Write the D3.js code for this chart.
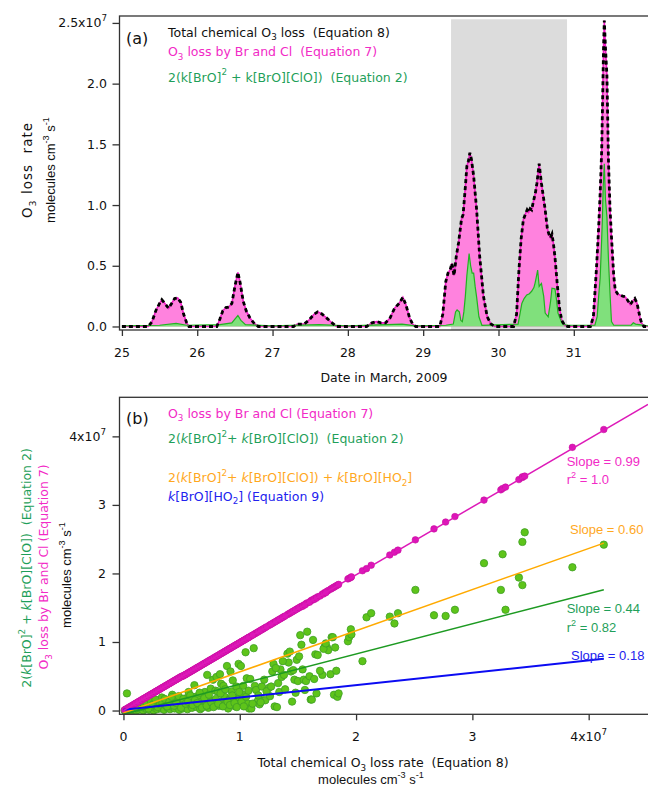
<!DOCTYPE html>
<html>
<head>
<meta charset="utf-8">
<script src="https://cdn.jsdelivr.net/npm/d3@7"></script>
<style>
body { margin: 0; background: #fff; }
svg { display: block; }
text { font-family: "DejaVu Sans", sans-serif; white-space: pre; }
</style>
</head>
<body>
<svg id="chart" width="648" height="793"></svg>
<script>
// ---- panel (a): O3 loss rate time series, units of 1e7 molecules cm-3 s-1
const totalDays = [25.00,25.35,25.40,25.45,25.50,25.53,25.57,25.62,25.66,25.70,25.74,25.78,25.82,25.86,25.89,
  26.26,26.30,26.34,26.38,26.42,26.46,26.50,26.54,26.57,26.61,26.65,26.70,26.75,26.81,
  27.28,27.33,27.42,27.48,27.55,27.60,27.64,27.70,27.77,27.85,
  28.25,28.32,28.38,28.44,28.50,28.56,28.62,28.68,28.73,28.77,28.82,28.86,28.90,
  29.22,29.26,29.30,29.33,29.36,29.38,29.41,29.44,29.47,29.49,29.51,29.53,29.56,29.58,29.60,29.62,29.64,29.67,29.71,29.75,29.80,29.85,29.90,29.95,
  30.20,30.24,30.27,30.30,30.33,30.36,30.38,30.40,30.42,30.44,30.46,30.49,30.51,30.54,30.57,30.60,30.62,30.65,30.67,30.69,30.71,30.73,30.75,30.78,30.81,30.84,30.88,30.92,
  31.22,31.26,31.30,31.33,31.35,31.37,31.38,31.395,31.405,31.42,31.44,31.46,31.48,31.50,31.53,31.55,31.58,31.61,31.65,31.68,31.71,31.75,31.78,31.81,31.84,31.86,31.88,31.90,31.93,31.985]
const totalLoss = [0,0,0.04,0.13,0.19,0.22,0.19,0.15,0.19,0.23,0.235,0.20,0.10,0.03,0,
  0,0.06,0.13,0.155,0.16,0.19,0.33,0.445,0.36,0.21,0.13,0.07,0.03,0,
  0,0.02,0.02,0.05,0.10,0.12,0.11,0.08,0.04,0,
  0,0.03,0.04,0.03,0.03,0.07,0.15,0.19,0.24,0.18,0.07,0.02,0,
  0,0.10,0.37,0.44,0.47,0.52,0.42,0.58,0.69,0.79,0.89,0.92,1.15,1.32,1.36,1.43,1.38,1.24,0.96,0.58,0.25,0.08,0.02,0,
  0,0.10,0.45,0.72,0.88,0.93,0.96,0.94,0.97,0.96,1.02,1.10,1.18,1.34,1.18,1.05,0.96,0.80,0.76,0.73,0.76,0.68,0.57,0.35,0.15,0.05,0.01,0,
  0,0.08,0.47,0.82,1.10,1.45,1.78,2.30,2.52,2.30,2.06,1.37,0.98,0.74,0.42,0.30,0.27,0.26,0.25,0.245,0.22,0.18,0.21,0.23,0.19,0.13,0.07,0.03,0,0]
const brClLoss = [0,0,0.04,0.13,0.19,0.22,0.19,0.15,0.19,0.23,0.235,0.20,0.10,0.03,0,
  0,0.06,0.13,0.155,0.16,0.19,0.33,0.445,0.36,0.21,0.13,0.07,0.03,0,
  0,0.02,0.02,0.05,0.10,0.12,0.11,0.08,0.04,0,
  0,0.03,0.04,0.03,0.03,0.07,0.15,0.19,0.24,0.18,0.07,0.02,0,
  0,0.10,0.37,0.44,0.47,0.52,0.42,0.58,0.69,0.79,0.89,0.92,1.15,1.32,1.36,1.43,1.38,1.24,0.96,0.58,0.25,0.08,0.02,0,
  0,0.10,0.45,0.72,0.88,0.93,0.96,0.94,0.97,0.96,1.02,1.10,1.18,1.34,1.18,1.05,0.96,0.80,0.76,0.73,0.76,0.68,0.57,0.35,0.15,0.05,0.01,0,
  0,0.08,0.47,0.82,1.10,1.45,1.78,2.30,2.52,2.30,2.06,1.37,0.98,0.74,0.42,0.30,0.27,0.26,0.25,0.245,0.22,0.18,0.21,0.23,0.19,0.13,0.07,0.03,0,0]
const eq2Days = [25.00,25.50,25.72,25.86,26.30,26.46,26.50,26.54,26.58,26.64,27.00,27.62,28.00,28.72,28.90,
  29.30,29.40,29.43,29.45,29.48,29.50,29.52,29.54,29.56,29.58,29.61,29.63,29.65,29.67,29.69,29.71,29.74,29.78,
  30.26,30.29,30.31,30.34,30.375,30.41,30.44,30.47,30.485,30.50,30.52,30.54,30.57,30.60,30.62,30.66,30.69,30.71,30.75,30.77,30.79,30.84,30.90,
  31.28,31.31,31.33,31.35,31.37,31.38,31.39,31.405,31.42,31.44,31.46,31.48,31.50,31.53,31.76,31.79,31.82,31.985]
const eq2Loss = [0.005,0.01,0.025,0.01,0.015,0.03,0.06,0.09,0.05,0.015,0.005,0.015,0.005,0.02,0.005,
  0.01,0.02,0.12,0.136,0.12,0.05,0.04,0.12,0.25,0.42,0.60,0.50,0.44,0.44,0.33,0.24,0.08,0.01,
  0.02,0.12,0.19,0.23,0.26,0.27,0.29,0.32,0.355,0.40,0.465,0.33,0.355,0.25,0.11,0.08,0.20,0.315,0.31,0.22,0.11,0.03,0.01,
  0.01,0.08,0.25,0.40,0.72,0.90,1.15,1.34,1.05,0.90,0.55,0.28,0.04,0.01,0.01,0.03,0.02,0.005]
const shadeDays = [29.37, 30.91]
const dayTicks = [25, 26, 27, 28, 29, 30, 31]
const lossTicksA = [0, 0.5, 1, 1.5, 2, 2.5]
const lossTickLabelsA = ["0.0", "0.5", "1.0", "1.5", "2.0", "2.5x10"]
const lossTickExpA = ["", "", "", "", "", "7"]

// ---- panel (b): scatter vs total loss (1e7 units)
const scatTotal = [0.01,0.02,0.03,0.04,0.05,0.06,0.07,0.08,0.09,0.10,0.11,0.12,0.13,0.14,0.15,0.16,0.17,0.18,0.19,0.20,
  0.21,0.22,0.23,0.24,0.25,0.26,0.27,0.28,0.29,0.30,0.31,0.32,0.33,0.34,0.35,0.36,0.37,0.38,0.39,0.40,
  0.41,0.42,0.43,0.44,0.45,0.46,0.47,0.48,0.49,0.50,0.51,0.52,0.53,0.54,0.55,0.56,0.57,0.58,0.59,0.60,
  0.61,0.62,0.63,0.64,0.65,0.66,0.67,0.68,0.69,0.70,0.71,0.72,0.73,0.74,0.75,0.76,0.77,0.78,0.79,0.80,
  0.81,0.82,0.83,0.84,0.85,0.86,0.87,0.88,0.89,0.90,0.91,0.92,0.93,0.94,0.95,0.96,0.97,0.98,0.99,1.00,
  1.01,1.02,1.03,1.04,1.05,1.06,1.07,1.08,1.09,1.10,1.12,1.13,1.14,1.15,1.17,1.19,1.20,1.22,1.25,1.26,
  1.28,1.29,1.30,1.32,1.33,1.35,1.36,1.38,1.41,1.42,1.43,1.44,1.45,1.47,1.49,1.50,1.52,1.53,1.55,1.57,
  1.58,1.61,1.62,1.63,1.65,1.67,1.71,1.73,1.75,1.76,1.78,1.79,1.80,1.81,1.82,1.83,1.84,1.85,1.93,1.94,
  1.955,1.96,2.055,2.09,2.13,2.29,2.33,2.36,2.51,2.67,2.77,2.85,3.10,3.245,3.26,3.285,3.40,3.43,3.43,3.45,3.86,4.13,
  0.105,0.125,0.155,0.175,0.195,0.215,0.235,0.255,0.275,0.295,0.315,0.335,0.355,0.375,0.395,0.415,0.435,0.455,0.475,0.495,
  0.515,0.535,0.555,0.575,0.595,0.615,0.635,0.655,0.675,0.695,0.715,0.735,0.755,0.775,0.795,0.815,0.835,0.855,0.875,0.895,
  0.915,0.935,0.955,0.975,0.995,1.015,1.035,1.055,1.075,
  1.11,1.16,1.18,1.21,1.23,1.27,1.31,1.34,1.37,1.39,1.46,1.48,1.51,1.54,1.56,1.60,1.64,1.66,1.69,1.72,1.74]
const scatBrCl = [0.01,0.02,0.03,0.04,0.05,0.06,0.07,0.08,0.09,0.10,0.11,0.12,0.13,0.14,0.15,0.16,0.17,0.18,0.19,0.20,
  0.21,0.22,0.23,0.24,0.25,0.26,0.27,0.28,0.29,0.30,0.31,0.32,0.33,0.34,0.35,0.36,0.37,0.38,0.39,0.40,
  0.41,0.42,0.43,0.44,0.45,0.46,0.47,0.48,0.49,0.50,0.50,0.51,0.52,0.53,0.54,0.55,0.56,0.57,0.58,0.59,
  0.60,0.61,0.62,0.63,0.64,0.65,0.66,0.67,0.68,0.69,0.70,0.71,0.72,0.73,0.74,0.75,0.76,0.77,0.78,0.79,
  0.80,0.81,0.82,0.83,0.84,0.85,0.86,0.87,0.88,0.89,0.90,0.91,0.92,0.93,0.94,0.95,0.96,0.97,0.98,0.99,
  1.00,1.01,1.02,1.03,1.04,1.05,1.06,1.07,1.08,1.09,1.11,1.12,1.13,1.14,1.16,1.18,1.19,1.21,1.24,1.25,
  1.27,1.28,1.29,1.31,1.32,1.34,1.35,1.37,1.40,1.41,1.42,1.43,1.44,1.46,1.48,1.49,1.51,1.52,1.54,1.56,
  1.57,1.60,1.61,1.62,1.64,1.66,1.70,1.72,1.74,1.75,1.77,1.78,1.79,1.80,1.81,1.82,1.83,1.84,1.92,1.93,
  1.94,1.95,2.04,2.07,2.12,2.27,2.31,2.34,2.49,2.65,2.75,2.83,3.07,3.22,3.24,3.26,3.37,3.40,3.41,3.42,3.84,4.10,
  0.104,0.124,0.153,0.173,0.193,0.213,0.233,0.252,0.272,0.292,0.312,0.332,0.351,0.371,0.391,0.411,0.431,0.450,0.470,0.490,
  0.510,0.530,0.549,0.569,0.589,0.609,0.629,0.648,0.668,0.688,0.708,0.728,0.747,0.767,0.787,0.807,0.827,0.846,0.866,0.886,
  0.906,0.926,0.945,0.965,0.985,1.005,1.025,1.044,1.064,
  1.10,1.15,1.17,1.20,1.22,1.26,1.30,1.33,1.36,1.38,1.45,1.47,1.50,1.52,1.54,1.58,1.62,1.64,1.67,1.70,1.72]
const scatEq2 = [0.00,0.01,0.25,0.00,0.01,0.02,0.00,0.01,0.03,0.02,0.00,0.04,0.01,0.03,0.05,0.02,0.00,0.04,0.07,0.02,
  0.05,0.01,0.08,0.03,0.06,0.00,0.04,0.10,0.02,0.06,0.13,0.03,0.19,0.05,0.01,0.08,0.14,0.04,0.10,0.02,
  0.06,0.23,0.12,0.03,0.08,0.16,0.05,0.01,0.14,0.09,0.03,0.11,0.06,0.18,0.02,0.27,0.15,0.07,0.04,0.12,
  0.37,0.20,0.05,0.19,0.09,0.02,0.13,0.06,0.24,0.27,0.10,0.52,0.04,0.16,0.32,0.08,0.45,0.12,0.29,0.49,
  0.28,0.07,0.53,0.39,0.14,0.36,0.20,0.10,0.65,0.03,0.16,0.57,0.28,0.44,0.19,0.06,0.35,0.12,0.68,0.18,
  0.65,0.24,0.36,0.09,0.85,0.47,0.10,0.03,0.46,0.03,0.91,0.36,0.30,0.13,0.09,0.35,0.15,0.15,0.33,0.21,
  0.57,0.68,0.06,0.05,0.40,0.60,0.49,0.52,0.83,0.70,0.86,0.57,0.13,0.45,0.74,0.43,1.10,0.96,0.45,0.43,
  1.15,0.16,0.16,1.03,0.82,0.81,0.52,0.93,0.92,0.88,0.53,1.07,1.07,0.23,0.92,0.58,0.20,0.25,1.01,1.07,
  1.185,1.11,0.72,1.36,1.42,1.37,1.27,1.42,1.76,1.39,1.38,1.47,2.15,1.76,2.28,1.47,1.94,1.83,2.46,2.60,2.09,2.42,
  0.05,0.08,0.10,0.06,0.12,0.03,0.14,0.09,0.16,0.05,0.09,0.11,0.17,0.06,0.13,0.20,0.07,0.11,0.21,0.04,
  0.17,0.10,0.13,0.22,0.08,0.15,0.11,0.26,0.04,0.18,0.07,0.23,0.12,0.05,0.17,0.10,0.25,0.06,0.31,0.13,
  0.08,0.22,0.11,0.05,0.27,0.13,0.06,0.20,0.29,
  0.10,0.22,0.12,0.45,0.28,0.35,0.62,0.27,0.72,0.31,0.59,0.26,0.79,0.60,0.30,0.50,0.46,0.25,0.58,0.90,0.98]
// least-squares fits: slope, intercept, last x of the drawn line
const fitNames = ["brcl", "sum", "eq2", "ho2"]
const fitSlopes = [0.99, 0.60, 0.44, 0.18]
const fitIntercepts = [0, -0.036, -0.055, 0.011]
const fitEnds = [4.51, 4.13, 4.13, 4.13]
const lossTicksB = [0, 1, 2, 3, 4]
const lossTickLabelsB = ["0", "1", "2", "3", "4x10"]
const lossTickExpB = ["", "", "", "", "7"]

const magText = "#f22ac6", greenText = "#1f9f5a", orangeText = "#ffa81e", blueText = "#2222ee"
const fitColors = { brcl: "#dd1ab8", sum: "#ffaa00", eq2: "#1d9a22", ho2: "#0b0bf2" }
const axisColor = "#333"
const narrow = '"Liberation Sans", Arial, sans-serif'

const svg = d3.select("#chart")
svg.append("rect").attr("width", 648).attr("height", 793).attr("fill", "#fff")

// text with sub/superscripts and italics; parts are strings or [text, mode]
function rich(g, x, y, parts, color, opt) {
	opt = opt || {}
	let s = opt.size || 12.5
	let t = g.append("text")
		.attr("x", x).attr("y", y)
		.attr("font-size", s)
		.attr("fill", color)
		.attr("text-anchor", opt.anchor || "start")
	if (opt.family) t.style("font-family", opt.family)
	if (opt.spacing) t.style("letter-spacing", opt.spacing + "px")
	if (opt.rotate) t.attr("transform", "rotate(-90 " + x + " " + y + ")")
	let shift = 0
	parts.forEach(function(p) {
		let str = typeof p === "string" ? p : p[0]
		let mode = typeof p === "string" ? "" : p[1]
		let target = mode === "sup" ? -0.5 * s : mode === "sub" ? 0.3 * s : 0
		let ts = t.append("tspan").attr("dy", target - shift).text(str)
		if (mode === "sup" || mode === "sub") ts.attr("font-size", s * 0.7)
		if (mode === "it") ts.attr("font-style", "italic")
		shift = target
	})
	return t
}

// ================= panel (a) =================
const xA = d3.scaleLinear().domain([24.968, 31.985]).range([119.5, 648])
const yA = d3.scaleLinear().domain([-0.029, 2.557]).range([330, 16])
const gA = svg.append("g")

gA.append("rect")
	.attr("x", xA(shadeDays[0]))
	.attr("width", xA(shadeDays[1]) - xA(shadeDays[0]))
	.attr("y", yA(2.53))
	.attr("height", 330 - yA(2.53))
	.attr("fill", "#dcdcdc")

function areaPath(days, vals) {
	return d3.area().x((d, i) => xA(days[i])).y0(yA(0)).y1(d => yA(d))(vals)
}
function linePath(days, vals) {
	return d3.line().x((d, i) => xA(days[i])).y(d => yA(d))(vals)
}

gA.append("path").attr("d", areaPath(totalDays, brClLoss)).attr("fill", "#ff82de")
gA.append("path").attr("d", areaPath(eq2Days, eq2Loss)).attr("fill", "#80e07c")
gA.append("path").attr("d", linePath(totalDays, brClLoss))
	.attr("fill", "none").attr("stroke", "#f01cc8").attr("stroke-width", 1.6)
gA.append("path").attr("d", linePath(eq2Days, eq2Loss))
	.attr("fill", "none").attr("stroke", "#22b222").attr("stroke-width", 1.2)
gA.append("path").attr("d", linePath(totalDays, totalLoss))
	.attr("fill", "none").attr("stroke", "#000").attr("stroke-width", 2.8)
	.attr("stroke-dasharray", "4,3")

// frame + axes
gA.append("rect").attr("x", 119.5).attr("y", 16).attr("width", 540).attr("height", 314)
	.attr("fill", "none").attr("stroke", axisColor).attr("stroke-width", 1.3)
gA.append("g").attr("transform", "translate(119.5,0)")
	.call(d3.axisLeft(yA).tickValues(lossTicksA).tickSize(7).tickFormat(""))
	.call(g => g.select(".domain").remove())
	.call(g => g.selectAll("line").attr("stroke", axisColor).attr("stroke-width", 1.3))
gA.append("g").attr("transform", "translate(0,330)")
	.call(d3.axisBottom(xA).tickValues(dayTicks).tickSize(6).tickFormat(""))
	.call(g => g.select(".domain").remove())
	.call(g => g.selectAll("line").attr("stroke", axisColor).attr("stroke-width", 1.3))

lossTicksA.forEach(function(v, i) {
	let parts = [lossTickLabelsA[i]]
	if (lossTickExpA[i]) parts.push([lossTickExpA[i], "sup"])
	rich(gA, 107, yA(v) + 4.5, parts, "#111", { anchor: "end" })
})
dayTicks.forEach(function(d) {
	rich(gA, xA(d), 357, [String(d)], "#111", { anchor: "middle" })
})

rich(gA, 384, 382, ["Date in March, 2009"], "#111", { anchor: "middle" })
rich(gA, 32, 170, ["O", ["3", "sub"], " loss  rate"], "#111", { anchor: "middle", rotate: true, size: 13.5, spacing: 1 })
rich(gA, 55, 170, ["molecules cm", ["-3", "sup"], " s", ["-1", "sup"]], "#111", { anchor: "middle", rotate: true, family: narrow, size: 13 })

rich(gA, 126, 44, ["(a)"], "#111", { size: 16 })
rich(gA, 168, 36.5, ["Total chemical O", ["3", "sub"], " loss  (Equation 8)"], "#111")
rich(gA, 168, 56, ["O", ["3", "sub"], " loss by Br and Cl  (Equation 7)"], magText)
rich(gA, 168, 81.5, ["2(k[BrO]", ["2", "sup"], " + k[BrO][ClO])  (Equation 2)"], greenText)

// ================= panel (b) =================
const xB = d3.scaleLinear().domain([-0.034, 4.51]).range([119.5, 648])
const yB = d3.scaleLinear().domain([-0.055, 4.57]).range([714.3, 397.3])
const gB = svg.append("g")

gB.append("defs").append("clipPath").attr("id", "clipB")
	.append("rect").attr("x", 119.5).attr("y", 397.3).attr("width", 540).attr("height", 317)
const plotB = gB.append("g").attr("clip-path", "url(#clipB)")

plotB.selectAll("circle.eq2").data(scatTotal).join("circle")
	.attr("class", "eq2")
	.attr("cx", d => xB(d))
	.attr("cy", (d, i) => yB(scatEq2[i]))
	.attr("r", 3.7)
	.attr("fill", "#5ec41a").attr("stroke", "#3f9f26").attr("stroke-width", 0.8)
plotB.selectAll("circle.brcl").data(scatTotal).join("circle")
	.attr("class", "brcl")
	.attr("cx", d => xB(d))
	.attr("cy", (d, i) => yB(scatBrCl[i]))
	.attr("r", 3.3)
	.attr("fill", "#dd14b8").attr("stroke", "#c8109f").attr("stroke-width", 0.6)

const fitOrder = [1, 2, 3, 0]
fitOrder.forEach(function(k) {
	let xs = [0, fitEnds[k]]
	plotB.append("path")
		.attr("d", d3.line().x(d => xB(d)).y(d => yB(fitSlopes[k] * d + fitIntercepts[k]))(xs))
		.attr("fill", "none")
		.attr("stroke", fitColors[fitNames[k]])
		.attr("stroke-width", k === 3 ? 2 : 1.5)
})

gB.append("rect").attr("x", 119.5).attr("y", 397.3).attr("width", 540).attr("height", 317)
	.attr("fill", "none").attr("stroke", axisColor).attr("stroke-width", 1.3)
gB.append("g").attr("transform", "translate(119.5,0)")
	.call(d3.axisLeft(yB).tickValues(lossTicksB).tickSize(7).tickFormat(""))
	.call(g => g.select(".domain").remove())
	.call(g => g.selectAll("line").attr("stroke", axisColor).attr("stroke-width", 1.3))
gB.append("g").attr("transform", "translate(0,714.3)")
	.call(d3.axisBottom(xB).tickValues(lossTicksB).tickSize(6).tickFormat(""))
	.call(g => g.select(".domain").remove())
	.call(g => g.selectAll("line").attr("stroke", axisColor).attr("stroke-width", 1.3))

lossTicksB.forEach(function(v, i) {
	let parts = [lossTickLabelsB[i]]
	if (lossTickExpB[i]) parts.push([lossTickExpB[i], "sup"])
	rich(gB, 106, yB(v) + 4.5, parts, "#111", { anchor: "end" })
	rich(gB, xB(v), 741, parts, "#111", { anchor: "middle" })
})

rich(gB, 383, 767, ["Total chemical O", ["3", "sub"], " loss rate  (Equation 8)"], "#111", { anchor: "middle" })
rich(gB, 371, 784, ["molecules cm", ["-3", "sup"], " s", ["-1", "sup"]], "#111", { anchor: "middle", family: narrow, size: 13 })

rich(gB, 31, 568, ["2(", ["k", "it"], "[BrO]", ["2", "sup"], " + ", ["k", "it"], "[BrO][ClO])  (Equation 2)"], greenText, { anchor: "middle", rotate: true })
rich(gB, 48, 567, ["O", ["3", "sub"], " loss by Br and Cl (Equation 7)"], magText, { anchor: "middle", rotate: true })
rich(gB, 71, 575, ["molecules cm", ["-3", "sup"], " s", ["-1", "sup"]], "#111", { anchor: "middle", rotate: true, family: narrow, size: 13 })

rich(gB, 126, 424, ["(b)"], "#111", { size: 16 })
rich(gB, 168, 417.7, ["O", ["3", "sub"], " loss by Br and Cl (Equation 7)"], magText)
rich(gB, 168, 443.3, ["2(", ["k", "it"], "[BrO]", ["2", "sup"], "+ ", ["k", "it"], "[BrO][ClO])  (Equation 2)"], greenText)
rich(gB, 168, 482.3, ["2(", ["k", "it"], "[BrO]", ["2", "sup"], "+ ", ["k", "it"], "[BrO][ClO]) + ", ["k", "it"], "[BrO][HO", ["2", "sub"], "]"], orangeText)
rich(gB, 168, 500.7, [["k", "it"], "[BrO][HO", ["2", "sub"], "] (Equation 9)"], blueText)

rich(gB, 566.7, 465.7, ["Slope = 0.99"], magText, { family: narrow, size: 13 })
rich(gB, 566.7, 484.3, ["r", ["2", "sup"], " = 1.0"], magText, { family: narrow, size: 13 })
rich(gB, 570, 533.7, ["Slope = 0.60"], orangeText, { family: narrow, size: 13 })
rich(gB, 566.7, 613.3, ["Slope = 0.44"], greenText, { family: narrow, size: 13 })
rich(gB, 566.7, 632.3, ["r", ["2", "sup"], " = 0.82"], greenText, { family: narrow, size: 13 })
rich(gB, 571, 660, ["Slope = 0.18"], blueText, { family: narrow, size: 13 })
</script>
</body>
</html>
